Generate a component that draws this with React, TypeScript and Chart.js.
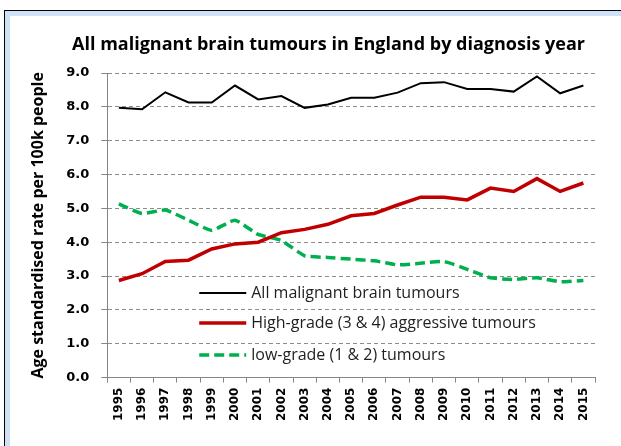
import React, { useEffect, useRef } from "react";
import { Chart, registerables } from "chart.js";

Chart.register(...registerables);

const years = ["1995","1996","1997","1998","1999","2000","2001","2002","2003","2004","2005","2006","2007","2008","2009","2010","2011","2012","2013","2014","2015"];
const allMalignant = [7.97,7.93,8.43,8.13,8.13,8.63,8.22,8.32,7.97,8.07,8.27,8.27,8.42,8.7,8.73,8.53,8.53,8.45,8.9,8.4,8.63];
const highGrade = [2.87,3.07,3.43,3.47,3.8,3.95,4.0,4.28,4.38,4.53,4.78,4.85,5.1,5.33,5.33,5.25,5.6,5.5,5.88,5.5,5.75];
const lowGrade = [5.13,4.85,4.95,4.65,4.35,4.65,4.23,4.05,3.6,3.55,3.5,3.45,3.33,3.38,3.43,3.2,2.95,2.9,2.95,2.83,2.87];
const seriesNames = ["All malignant brain tumours","High-grade (3 & 4) aggressive tumours","low-grade (1 & 2) tumours"];
const titleText = "All malignant brain tumours in England by diagnosis year";
const yTitle = "Age standardised rate per 100k people";

const customTitle = {
  id: "customTitle",
  afterDraw(chart: any) {
    const { ctx } = chart;
    ctx.save();
    ctx.fillStyle = "#000000";
    ctx.font = "bold 18px 'Open Sans'";
    ctx.textAlign = "center";
    ctx.textBaseline = "middle";
    ctx.fillText(titleText, chart.width / 2 + 18, 45);
    ctx.restore();
  },
};

const insideLegend = {
  id: "insideLegend",
  afterDatasetsDraw(chart: any) {
    const { ctx, chartArea } = chart;
    const x0 = chartArea.left + 92;
    const lineLen = 47;
    const rows = [chartArea.top + 220, chartArea.top + 250, chartArea.top + 282];
    ctx.save();
    chart.data.datasets.forEach((ds: any, i: number) => {
      const y = rows[i];
      ctx.beginPath();
      ctx.strokeStyle = ds.borderColor;
      ctx.lineWidth = ds.borderWidth;
      ctx.setLineDash(ds.borderDash || []);
      ctx.moveTo(x0, y);
      ctx.lineTo(x0 + lineLen, y);
      ctx.stroke();
      ctx.setLineDash([]);
      ctx.fillStyle = "#1f1f1f";
      ctx.font = "16px 'Open Sans'";
      ctx.textBaseline = "middle";
      ctx.textAlign = "left";
      ctx.fillText(ds.label, x0 + lineLen + 5, y);
    });
    ctx.restore();
  },
};

export default function App() {
  const ref = useRef<HTMLCanvasElement>(null);
  useEffect(() => {
    if (!ref.current) return;
    const chart = new Chart(ref.current, {
      type: "line",
      data: {
        labels: years,
        datasets: [
          { label: seriesNames[0], data: allMalignant, borderColor: "#000000", borderWidth: 2, pointRadius: 0, fill: false, tension: 0 },
          { label: seriesNames[1], data: highGrade, borderColor: "#c00000", borderWidth: 3.5, pointRadius: 0, fill: false, tension: 0 },
          { label: seriesNames[2], data: lowGrade, borderColor: "#00b050", borderWidth: 3.5, borderDash: [10, 5], pointRadius: 0, fill: false, tension: 0.15 },
        ],
      },
      plugins: [insideLegend, customTitle],
      options: {
        animation: false,
        responsive: false,
        maintainAspectRatio: false,
        layout: { padding: { left: 29, right: 26, top: 73, bottom: 20 } },
        plugins: {
          legend: { display: false },
          tooltip: { enabled: false },
          title: { display: false },
        },
        scales: {
          x: {
            offset: true,
            grid: { offset: true, drawOnChartArea: false, drawTicks: true, tickLength: 5, color: "#868686" },
            border: { display: true, color: "#868686", width: 1 },
            ticks: {
              maxRotation: 90,
              minRotation: 90,
              autoSkip: false,
              padding: 5,
              color: "#000000",
              font: { family: "DejaVu Sans", size: 12, weight: "bold" },
            },
          },
          y: {
            min: 0,
            max: 9,
            ticks: {
              stepSize: 1,
              padding: 12,
              color: "#000000",
              font: { family: "DejaVu Sans", size: 13, weight: "bold" },
              callback: (v: any) => Number(v).toFixed(1),
            },
            grid: { color: "#8c8c8c", lineWidth: 1, tickLength: 6, tickColor: "#868686", borderDash: [4, 3], tickBorderDash: [] },
            border: { display: true, color: "#868686", width: 1, dash: [4, 3] },
            title: {
              display: true,
              text: yTitle,
              color: "#000000",
              font: { family: "Open Sans", size: 16, weight: "bold" },
              padding: { top: 0, bottom: 6 },
            },
          },
        },
      },
    } as any);
    return () => chart.destroy();
  }, []);
  return (
    <div style={{ position: "fixed", left: 0, top: 0, width: 621, height: 446, background: "#ffffff", overflow: "hidden" }}>
      <div style={{ position: "absolute", left: 4, top: 10, width: 640, height: 460, borderLeft: "1px solid #000", borderTop: "1px solid #000", background: "#cfe1f7" }} />
      <div style={{ position: "absolute", left: 10, top: 16, width: 640, height: 460, background: "#ffffff" }} />
      <canvas ref={ref} width={621} height={446} style={{ position: "absolute", left: 0, top: 0 }} />
    </div>
  );
}
